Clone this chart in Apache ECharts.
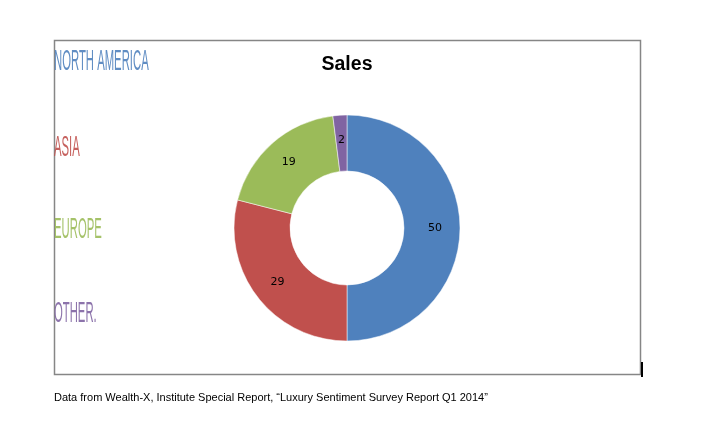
<!DOCTYPE html>
<html>
<head>
<meta charset="utf-8">
<script src="https://cdn.jsdelivr.net/npm/echarts@6/dist/echarts.min.js"></script>
<style>
html,body{margin:0;padding:0;background:#fff;}
#main{width:717px;height:421px;}
</style>
</head>
<body>
<div id="main"></div>
<script>
var regions = ['NORTH AMERICA', 'ASIA', 'EUROPE', 'OTHER.'];
var sales = [50, 29, 19, 2];
var colors = ['#4F81BD', '#C0504D', '#9BBB59', '#8064A2'];
var titleText = 'Sales';
var footerText = 'Data from Wealth-X, Institute Special Report, \u201cLuxury Sentiment Survey Report Q1 2014\u201d';

var labelY = [62, 148, 230, 314];

var chart = echarts.init(document.getElementById('main'), null, {renderer: 'canvas'});

var graphics = [
  {type: 'rect', shape: {x: 54.5, y: 40.5, width: 586, height: 334}, style: {fill: 'none', stroke: '#868686', lineWidth: 1.5}, z: 0},
  {type: 'rect', shape: {x: 641, y: 362, width: 2, height: 15}, style: {fill: '#000'}},
  {type: 'text', x: 347, y: 65, style: {text: titleText, fill: '#000', font: 'bold 19.5px "Liberation Sans", Arial, sans-serif', textAlign: 'center', textVerticalAlign: 'middle'}},
  {type: 'text', x: 54, y: 398, style: {text: footerText, fill: '#000', font: '11px "Liberation Sans", Arial, sans-serif', textAlign: 'left', textVerticalAlign: 'middle'}}
];
regions.forEach(function (r, i) {
  graphics.push({
    type: 'text', x: 54, y: labelY[i], scaleX: 0.39, scaleY: 1,
    style: {text: r, fill: colors[i], font: '29px "Liberation Sans", Arial, sans-serif', textAlign: 'left', textVerticalAlign: 'middle', opacity: 0.9}
  });
});

chart.setOption({
  animation: false,
  backgroundColor: '#fff',
  graphic: graphics,
  series: [{
    type: 'pie',
    center: [347, 228],
    radius: [57, 113],
    startAngle: 90,
    clockwise: true,
    color: colors,
    itemStyle: {borderColor: '#fff', borderWidth: 0.5},
    label: {show: true, position: 'inside', formatter: '{c}', color: '#000', fontSize: 11, fontFamily: '"DejaVu Sans", Verdana, sans-serif'},
    labelLine: {show: false},
    emphasis: {disabled: true},
    data: regions.map(function (r, i) { return {name: r, value: sales[i]}; })
  }]
});
</script>
</body>
</html>
